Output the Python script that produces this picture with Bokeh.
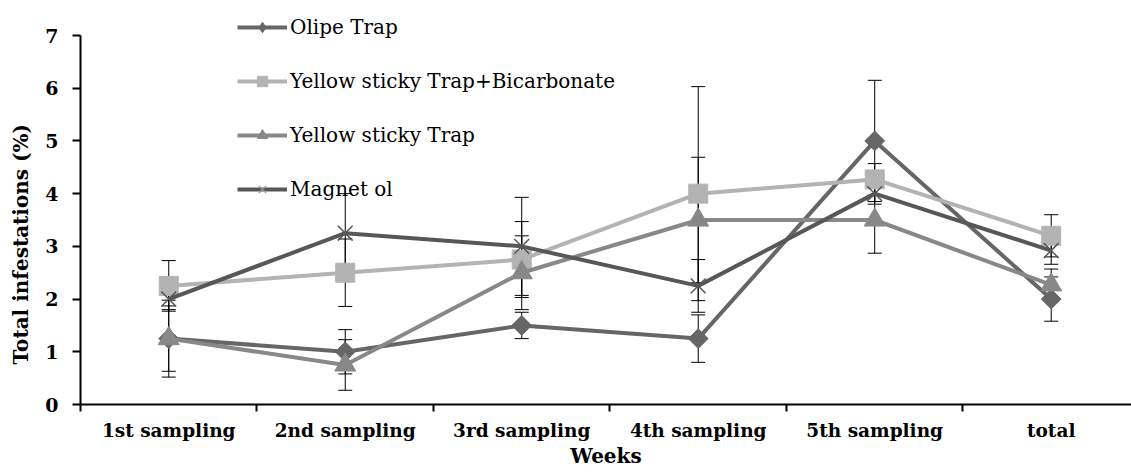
import numpy as np
from bokeh.plotting import figure
from bokeh.models import (ColumnDataSource, FixedTicker, Range1d, Legend, LegendItem,
                          Whisker, TeeHead)
from bokeh.embed import file_html
from bokeh.resources import INLINE

categories = ["1st sampling", "2nd sampling", "3rd sampling", "4th sampling", "5th sampling", "total"]
series_names = ["Olipe Trap", "Yellow sticky Trap+Bicarbonate", "Yellow sticky Trap", "Magnet ol"]
olipe = [1.25, 1.0, 1.5, 1.25, 5.0, 2.0]
olipe_err = [0.62, 0.42, 0.25, 0.45, 1.15, 0.42]
bicarb = [2.25, 2.5, 2.75, 4.0, 4.27, 3.2]
bicarb_err = [0.48, 0.64, 0.72, 2.03, 0.3, 0.4]
yellow = [1.25, 0.75, 2.5, 3.5, 3.5, 2.27]
yellow_err = [0.73, 0.48, 0.7, 1.19, 0.63, 0.3]
magnet = [2.0, 3.25, 3.0, 2.25, 4.0, 2.92]
magnet_err = [0.2, 0.75, 0.93, 0.5, 0.2, 0.26]
y_ticks = [0, 1, 2, 3, 4, 5, 6, 7]
y_title = "Total infestations (%)"
x_title = "Weeks"

xs = [i + 0.5 for i in range(len(categories))]

SERIF = "DejaVu Serif"

p = figure(width=1131, height=473, output_backend="svg", toolbar_location=None,
           x_range=Range1d(0, 5.955), y_range=Range1d(0, 7.664),
           min_border_left=80, min_border_right=0, min_border_top=0, min_border_bottom=69)
p.outline_line_color = None
p.grid.visible = False
p.background_fill_color = "white"
p.border_fill_color = "white"

# axes
p.yaxis.ticker = FixedTicker(ticks=y_ticks)
p.yaxis.bounds = (0, 7)
p.yaxis.axis_line_width = 2
p.yaxis.axis_line_color = "black"
p.yaxis.major_tick_line_width = 2
p.yaxis.major_tick_out = 8
p.yaxis.major_tick_in = 0
p.yaxis.minor_tick_line_color = None
p.yaxis.major_label_text_font = SERIF
p.yaxis.major_label_text_font_style = "bold"
p.yaxis.major_label_text_font_size = "19px"
p.yaxis.major_label_text_color = "black"
p.yaxis.major_label_standoff = 14
# trailing non-breaking spaces shift the rotated title's centre towards the bottom
p.yaxis.axis_label = y_title + "\u00a0" * 12
p.yaxis.axis_label_text_font = SERIF
p.yaxis.axis_label_text_font_style = "bold"
p.yaxis.axis_label_text_font_size = "20px"
p.yaxis.axis_label_text_color = "black"
p.yaxis.axis_label_standoff = 9

p.xaxis.ticker = FixedTicker(ticks=xs, minor_ticks=list(range(0, len(categories) + 1)))
p.xaxis.major_label_overrides = {x: c for x, c in zip(xs, categories)}
p.xaxis.axis_line_width = 2
p.xaxis.axis_line_color = "black"
p.xaxis.major_tick_line_color = None
p.xaxis.major_tick_out = 0
p.xaxis.major_tick_in = 0
p.xaxis.minor_tick_line_width = 2
p.xaxis.minor_tick_line_color = "black"
p.xaxis.minor_tick_out = 7
p.xaxis.minor_tick_in = 0
p.xaxis.major_label_text_font = SERIF
p.xaxis.major_label_text_font_style = "bold"
p.xaxis.major_label_text_font_size = "18.5px"
p.xaxis.major_label_text_color = "black"
p.xaxis.major_label_standoff = 8
p.xaxis.axis_label = x_title
p.xaxis.axis_label_text_font = SERIF
p.xaxis.axis_label_text_font_style = "bold"
p.xaxis.axis_label_text_font_size = "20px"
p.xaxis.axis_label_text_color = "black"
p.xaxis.axis_label_standoff = 0

colors = ["#666666", "#b3b3b3", "#888888", "#575757"]
data = [olipe, bicarb, yellow, magnet]
errs = [olipe_err, bicarb_err, yellow_err, magnet_err]

# error bars
for vals, err in zip(data, errs):
    src = ColumnDataSource(dict(x=xs, upper=[v + e for v, e in zip(vals, err)],
                                lower=[v - e for v, e in zip(vals, err)]))
    w = Whisker(source=src, base="x", upper="upper", lower="lower", dimension="height",
                line_color="black", line_width=1, level="underlay",
                upper_head=TeeHead(size=14, line_color="black", line_width=1),
                lower_head=TeeHead(size=14, line_color="black", line_width=1))
    p.add_layout(w)

legend_items = []
nan_src = ColumnDataSource(dict(x=[np.nan], y=[np.nan]))
for i, (vals, col) in enumerate(zip(data, colors)):
    src = ColumnDataSource(dict(x=xs, y=vals))
    p.line("x", "y", source=src, line_color=col, line_width=4)
    if i == 0:
        p.scatter("x", "y", source=src, marker="square", angle=np.pi / 4, size=14,
                  fill_color=col, line_color=col)
        lm = p.scatter("x", "y", source=nan_src, marker="diamond", size=16,
                       fill_color=col, line_color=col)
    elif i == 1:
        p.scatter("x", "y", source=src, marker="square", size=19, fill_color=col, line_color=col)
        lm = p.scatter("x", "y", source=nan_src, marker="square", size=12, fill_color=col, line_color=col)
    elif i == 2:
        p.scatter("x", "y", source=src, marker="triangle", size=21, fill_color=col, line_color=col)
        lm = p.scatter("x", "y", source=nan_src, marker="triangle", size=13, fill_color=col, line_color=col)
    else:
        p.scatter("x", "y", source=src, marker="x", size=21, line_color=col, line_width=1.5)
        lm = p.scatter("x", "y", source=nan_src, marker="x", size=14, line_color="#999999", line_width=1.2)
    ll = p.line("x", "y", source=nan_src, line_color=col, line_width=4)
    legend_items.append(LegendItem(label=series_names[i], renderers=[ll, lm]))

legend = Legend(items=legend_items, location=(157, 202), orientation="vertical",
                glyph_width=50, glyph_height=26, label_height=26, spacing=28,
                padding=0, margin=0, label_standoff=3,
                label_text_font=SERIF, label_text_font_size="20px", label_text_color="black",
                border_line_color=None, background_fill_alpha=0)
p.add_layout(legend, "center")

open("out.html", "w").write(file_html(p, INLINE))
